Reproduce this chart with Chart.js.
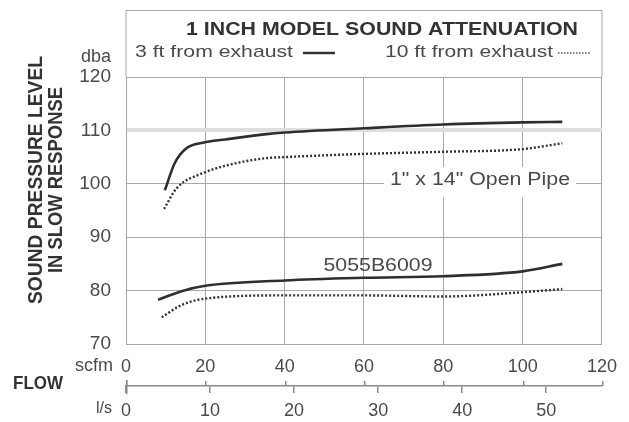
<!DOCTYPE html>
<html>
<head>
<meta charset="utf-8">
<script src="https://cdn.jsdelivr.net/npm/chart.js@4.4.1/dist/chart.umd.min.js"></script>
<style>
  html, body { margin: 0; padding: 0; background: #fff; }
  #wrap { width: 629px; height: 422px; }
</style>
</head>
<body>
<div id="wrap"><canvas id="c" width="629" height="422"></canvas></div>
<script>
// Valores (scfm x dba)
const openPipe3ftX = [9.8, 12.3, 15.3, 19.4, 25, 35.4, 40, 60, 80, 100, 110];
const openPipe3ftY = [98.8, 103.9, 106.7, 107.7, 108.3, 109.3, 109.6, 110.4, 111.1, 111.5, 111.6];
const openPipe10ftX = [9.6, 12.8, 19.4, 28, 35.4, 40, 60, 80, 100, 110];
const openPipe10ftY = [95.3, 99.2, 102.0, 103.9, 104.8, 105.0, 105.6, 106.0, 106.5, 107.6];
const muffler3ftX = [8.1, 14, 20, 40, 60, 80, 100, 110];
const muffler3ftY = [78.3, 79.9, 80.9, 81.9, 82.4, 82.7, 83.6, 85.0];
const muffler10ftX = [9, 14, 20, 40, 60, 80, 100, 110];
const muffler10ftY = [75.0, 77.3, 78.5, 79.1, 79.1, 78.9, 79.7, 80.3];

const scfmTicks = [0, 20, 40, 60, 80, 100, 120];
const lsTicks = [0, 10, 20, 30, 40, 50];
const SCFM_PER_LS = 2.1189;

const textColor = '#4a4a4a';
const gridColor = '#a8a8a8';
const axisColor = '#8a8a8a';
const FONT = '"Liberation Sans", Arial, sans-serif';

function pts(xs, ys) {
  return xs.map((x, i) => ({ x: x, y: ys[i] }));
}

// escreve texto esticado/comprimido para uma largura alvo
function fitText(ctx, text, x, y, width, align) {
  const w = ctx.measureText(text).width;
  const s = width / w;
  ctx.save();
  ctx.translate(x, y);
  ctx.scale(s, 1);
  ctx.textAlign = align || 'left';
  ctx.fillText(text, 0, 0);
  ctx.restore();
}

function seg(ctx, x1, y1, x2, y2) {
  ctx.beginPath();
  ctx.moveTo(x1, y1);
  ctx.lineTo(x2, y2);
  ctx.stroke();
}

// marcas de scfm acima da linha do eixo de vazão (eixo l/s = x2)
const eixoVazao = {
  id: 'eixoVazao',
  afterDraw(chart) {
    const ctx = chart.ctx;
    const xs = chart.scales.x;
    const x2 = chart.scales.x2;
    const ly = Math.round(x2.top);
    ctx.save();
    ctx.fillStyle = axisColor;
    ctx.fillRect(Math.round(chart.chartArea.left), ly - 6, 1.5, 14);
    scfmTicks.forEach(v => {
      ctx.fillRect(Math.round(xs.getPixelForValue(v)), ly - 5, 1.5, 5);
    });
    ctx.restore();
  }
};

const decoracao = {
  id: 'decoracao',
  beforeDatasetsDraw(chart) {
    // fundo branco atrás do rótulo "Open Pipe" (corta a grade)
    const ctx = chart.ctx;
    ctx.save();
    ctx.fillStyle = '#fff';
    ctx.fillRect(384, 167, 192, 30);
    ctx.restore();
  },
  afterDraw(chart) {
    const ctx = chart.ctx;
    const a = chart.chartArea;
    ctx.save();
    // caixa do cabeçalho
    ctx.strokeStyle = gridColor;
    ctx.lineWidth = 1;
    ctx.beginPath();
    ctx.moveTo(a.left, a.top);
    ctx.lineTo(a.left, 10.5);
    ctx.lineTo(a.right, 10.5);
    ctx.lineTo(a.right, a.top);
    ctx.stroke();

    ctx.fillStyle = '#333';
    ctx.textBaseline = 'middle';
    ctx.font = 'bold 19px ' + FONT;
    fitText(ctx, '1 INCH MODEL SOUND ATTENUATION', 186, 30, 392);

    ctx.fillStyle = textColor;
    ctx.font = '17px ' + FONT;
    fitText(ctx, '3 ft from exhaust', 135, 52, 158);
    fitText(ctx, '10 ft from exhaust', 385, 52, 168);
    ctx.strokeStyle = '#333';
    ctx.lineWidth = 2.5;
    seg(ctx, 303, 53, 335, 53);
    ctx.strokeStyle = '#555';
    ctx.setLineDash([1.5, 1.5]);
    ctx.lineWidth = 1.6;
    seg(ctx, 558, 53, 590, 53);
    ctx.setLineDash([]);

    // título do eixo y
    ctx.fillStyle = '#333';
    ctx.font = 'bold 20px ' + FONT;
    ctx.save();
    ctx.translate(36, 180);
    ctx.rotate(-Math.PI / 2);
    fitText(ctx, 'SOUND PRESSURE LEVEL', 0, 0, 248, 'center');
    fitText(ctx, 'IN SLOW RESPONSE', 0, 20, 186, 'center');
    ctx.restore();

    // unidades
    ctx.fillStyle = textColor;
    ctx.font = '18px ' + FONT;
    ctx.textAlign = 'right';
    ctx.fillText('dba', 111, 57);
    ctx.fillText('scfm', 113, 366);
    ctx.font = '16px ' + FONT;
    ctx.fillText('l/s', 112, 409);
    ctx.fillStyle = '#333';
    ctx.font = 'bold 18px ' + FONT;
    fitText(ctx, 'FLOW', 13, 384, 50);

    // rótulos das curvas
    ctx.fillStyle = textColor;
    ctx.font = '18px ' + FONT;
    fitText(ctx, '1" x 14" Open Pipe', 480, 180, 180, 'center');
    fitText(ctx, '5055B6009', 378, 266, 109, 'center');
    ctx.restore();
  }
};

const linha = (label, data, dash) => ({
  label: label,
  data: data,
  xAxisID: 'x',
  borderColor: dash ? '#333' : '#2e2e2e',
  borderWidth: dash ? 2.4 : 2.6,
  borderDash: dash ? [2, 2] : [],
  pointRadius: 0,
  cubicInterpolationMode: 'monotone',
  fill: false
});

new Chart(document.getElementById('c'), {
  type: 'line',
  data: {
    datasets: [
      linha('Open pipe 3 ft', pts(openPipe3ftX, openPipe3ftY), false),
      linha('Open pipe 10 ft', pts(openPipe10ftX, openPipe10ftY), true),
      linha('5055B6009 3 ft', pts(muffler3ftX, muffler3ftY), false),
      linha('5055B6009 10 ft', pts(muffler10ftX, muffler10ftY), true)
    ]
  },
  options: {
    responsive: false,
    animation: false,
    layout: { padding: { left: 0, top: 77, right: 26, bottom: 0 } },
    plugins: { legend: { display: false }, tooltip: { enabled: false } },
    scales: {
      x: {
        type: 'linear',
        position: 'bottom',
        weight: 0,
        min: 0,
        max: 120,
        afterFit(scale) { scale.height = 42; },
        afterBuildTicks(scale) { scale.ticks = scfmTicks.map(v => ({ value: v })); },
        grid: { color: gridColor, drawTicks: false },
        border: { color: gridColor },
        ticks: { color: textColor, font: { family: FONT, size: 18 }, padding: 12, maxRotation: 0 }
      },
      x2: {
        type: 'linear',
        position: 'bottom',
        weight: 1,
        min: 0,
        max: 120 / SCFM_PER_LS,
        afterFit(scale) { scale.height = 36; },
        afterBuildTicks(scale) { scale.ticks = lsTicks.map(v => ({ value: v })); },
        grid: { drawOnChartArea: false, drawTicks: true, tickLength: 7, color: axisColor, lineWidth: 1.5 },
        border: { display: true, color: axisColor, width: 1.5 },
        ticks: { color: textColor, font: { family: FONT, size: 18 }, padding: 7, maxRotation: 0 }
      },
      y: {
        min: 70,
        max: 120,
        afterFit(scale) { scale.width = 126; },
        ticks: { stepSize: 10, color: textColor, font: { family: FONT, size: 19 }, padding: 15 },
        grid: {
          drawTicks: false,
          color: c => c.tick && c.tick.value === 110 ? '#dedede' : gridColor,
          lineWidth: c => c.tick && c.tick.value === 110 ? 4 : 1
        },
        border: { color: gridColor }
      }
    }
  },
  plugins: [eixoVazao, decoracao]
});
</script>
</body>
</html>
